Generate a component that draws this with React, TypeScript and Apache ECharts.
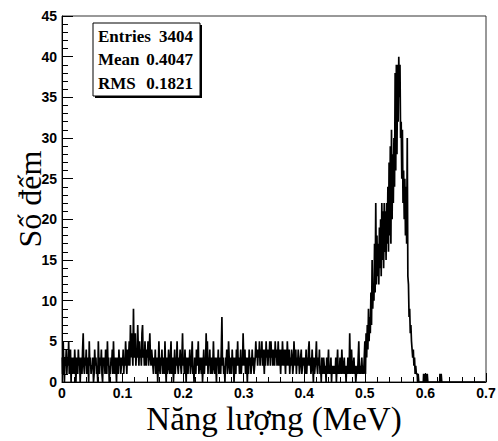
import React, { useEffect, useRef } from "react";
import * as echarts from "echarts";

const BIN = 0.001;

// counts per 0.001 MeV bin
const bg0 = [
  3,1,5,2,0,3,2,4,1,3, 2,5,1,2,4,0,3,1,2,3, 1,4,2,0,3,2,1,4,2,3, 0,2,3,1,4,6,2,1,3,2, 4,1,2,3,0,5,2,3,1,2,
  2,3,0,1,4,2,3,1,2,0, 5,2,1,3,2,4,1,0,3,2, 3,1,4,2,1,5,2,3,0,2, 1,3,2,4,1,5,2,1,3,2, 0,3,2,1,4,2,3,1,2,3,
];
const bg1 = [
  2,4,1,3,2,5,3,1,4,2, 3,5,2,7,3,6,4,2,9,3, 5,6,2,4,3,7,4,2,5,3, 4,2,6,7,3,4,2,5,3,2, 4,3,5,2,4,6,3,2,4,3,
  2,1,3,2,4,1,2,3,0,2, 5,2,1,3,2,4,1,2,3,1, 5,2,0,3,1,2,4,2,1,3, 5,1,2,3,0,2,4,1,3,2, 5,2,1,3,2,4,2,1,3,6,
];
const bg2 = [
  2,3,1,4,2,0,3,2,1,3, 2,4,1,2,3,5,1,2,0,3, 2,1,4,2,3,5,1,2,3,2, 1,3,0,2,4,1,3,2,6,2, 5,1,3,2,4,1,2,3,1,2,
  5,2,1,3,2,0,3,2,4,1, 3,2,1,4,8,2,3,1,2,0, 3,2,4,1,2,5,3,1,2,3, 1,4,2,3,0,2,3,1,4,2, 5,2,3,1,2,4,1,3,2,6,
];
const bg3 = [
  3,2,4,1,3,2,0,3,1,4, 2,3,1,2,4,2,3,1,2,3, 5,3,4,2,4,3,5,2,4,3, 5,2,4,3,1,4,2,5,3,4, 2,4,3,5,2,5,3,4,2,3,
  4,2,5,3,4,2,3,5,2,4, 3,1,4,2,5,3,2,4,3,1, 4,2,5,3,2,4,1,3,2,4, 3,1,2,5,3,2,4,1,3,2, 4,3,1,2,3,4,1,2,3,2,
];
const bg4 = [
  3,1,2,4,1,3,2,4,5,2, 3,1,2,4,2,0,3,1,2,3, 5,2,1,3,2,4,1,2,0,3, 2,1,3,2,1,2,0,3,1,2, 4,1,2,1,3,0,2,1,2,1,
  2,1,3,0,2,4,1,2,1,3, 2,1,4,2,1,2,3,1,2,0, 2,1,3,2,1,6,2,1,4,2, 1,2,3,1,2,0,1,2,1,3, 5,1,2,1,2,3,1,2,1,3,
];
const peak = [
  5,1,6,3,7,4,9,5,8,6, 11,7,15,9,12,10,17,11,22,12, 18,13,17,12,19,14,20,13,22,15, 21,14,22,16,21,15,22,17,24,16,
  27,18,29,17,31,20,28,22,30,24, 38,26,39,28,39,32,40,35,39,30, 32,25,31,22,26,20,25,18,24,17, 30,13,12,8,9,6,7,5,4,3,
  4,2,3,1,2,1,1,0,1,0, 0,0,0,0,0,0,0,1,0,1,
];
const tail = [
  0,1,0,1,0,0,0,0,0,0, 0,0,0,0,0,0,0,0,0,0, 0,0,0,0,1,0,1,0,0,0, 0,0,0,0,0,0,0,0,0,0, 0,0,0,0,0,0,0,0,0,0,
  0,0,0,0,0,0,0,0,0,0, 0,0,0,0,0,0,0,0,0,0, 0,0,0,0,0,0,0,0,0,0, 0,0,0,0,0,0,0,0,0,0, 0,0,0,0,0,0,0,0,0,0,
];

const statLabels = ["Entries", "Mean", "RMS"];
const statValues = ["3404", "0.4047", "0.1821"];

const xTitle = "Năng lượng (MeV)";
const yTitle = "Số đếm";

export default function App() {
  const ref = useRef<HTMLDivElement>(null);
  useEffect(() => {
    if (!ref.current) return;
    const chart = echarts.init(ref.current, null, { renderer: "svg" });
    const counts = [...bg0, ...bg1, ...bg2, ...bg3, ...bg4, ...peak, ...tail];
    const data = counts.map((v, i) => [(i + 0.5) * BIN, v]);
    const serif = "'Liberation Serif', 'Times New Roman', serif";
    const sans = "'Liberation Sans', Arial, Helvetica, sans-serif";
    const graphic: any[] = [
      { type: "rect", shape: { x: 95, y: 25, width: 107, height: 73 }, style: { fill: "#000" }, z: 10 },
      { type: "rect", shape: { x: 93, y: 23, width: 107, height: 73 }, style: { fill: "#fff", stroke: "#000", lineWidth: 1 }, z: 11 },
    ];
    statLabels.forEach((lab, k) => {
      const y = 36 + k * 23.5;
      graphic.push({
        type: "text", x: 98, y, z: 12,
        style: { text: lab, fontFamily: serif, fontWeight: "bold", fontSize: 17, fill: "#000", align: "left", verticalAlign: "middle" },
      });
      graphic.push({
        type: "text", x: 193, y, z: 12,
        style: { text: statValues[k], fontFamily: serif, fontWeight: "bold", fontSize: 17, fill: "#000", align: "right", verticalAlign: "middle" },
      });
    });
    chart.setOption({
      animation: false,
      grid: {
        left: 62, right: 12, top: 16, bottom: 59, containLabel: false, outerBoundsMode: "none",
        show: true, borderColor: "#333", borderWidth: 1, backgroundColor: "transparent",
      },
      xAxis: {
        type: "value", min: 0, max: 0.7, interval: 0.1,
        name: xTitle, nameLocation: "middle", nameGap: 20, nameMoveOverlap: false,
        nameTextStyle: { fontFamily: serif, fontSize: 33, color: "#000" },
        axisLine: { show: true, lineStyle: { color: "#000", width: 1 } },
        axisTick: { show: true, inside: true, length: 9, lineStyle: { color: "#000" } },
        minorTick: { show: true, splitNumber: 5, length: 5, lineStyle: { color: "#000" } },
        axisLabel: { fontFamily: sans, fontWeight: "bold", fontSize: 14, color: "#000", margin: 4,
          formatter: (v: number) => (Math.round(v * 10) / 10).toString() },
        splitLine: { show: false },
      },
      yAxis: {
        type: "value", min: 0, max: 45, interval: 5,
        name: yTitle, nameLocation: "middle", nameGap: 16, nameRotate: 90, nameMoveOverlap: false,
        nameTextStyle: { fontFamily: serif, fontSize: 32, color: "#000" },
        axisLine: { show: true, lineStyle: { color: "#000", width: 1 } },
        axisTick: { show: true, inside: true, length: 11, lineStyle: { color: "#000" } },
        minorTick: { show: true, splitNumber: 5, length: 6, lineStyle: { color: "#000" } },
        axisLabel: { fontFamily: sans, fontWeight: "bold", fontSize: 14, color: "#000", margin: 5 },
        splitLine: { show: false },
      },
      series: [
        {
          type: "line", data, step: "middle", showSymbol: false, symbol: "none",
          lineStyle: { color: "#000", width: 1.7 }, clip: true,
        },
      ],
      graphic,
    });
    return () => chart.dispose();
  }, []);
  return <div ref={ref} style={{ position: "fixed", left: 0, top: 0, width: 498, height: 441, background: "#fff" }} />;
}
